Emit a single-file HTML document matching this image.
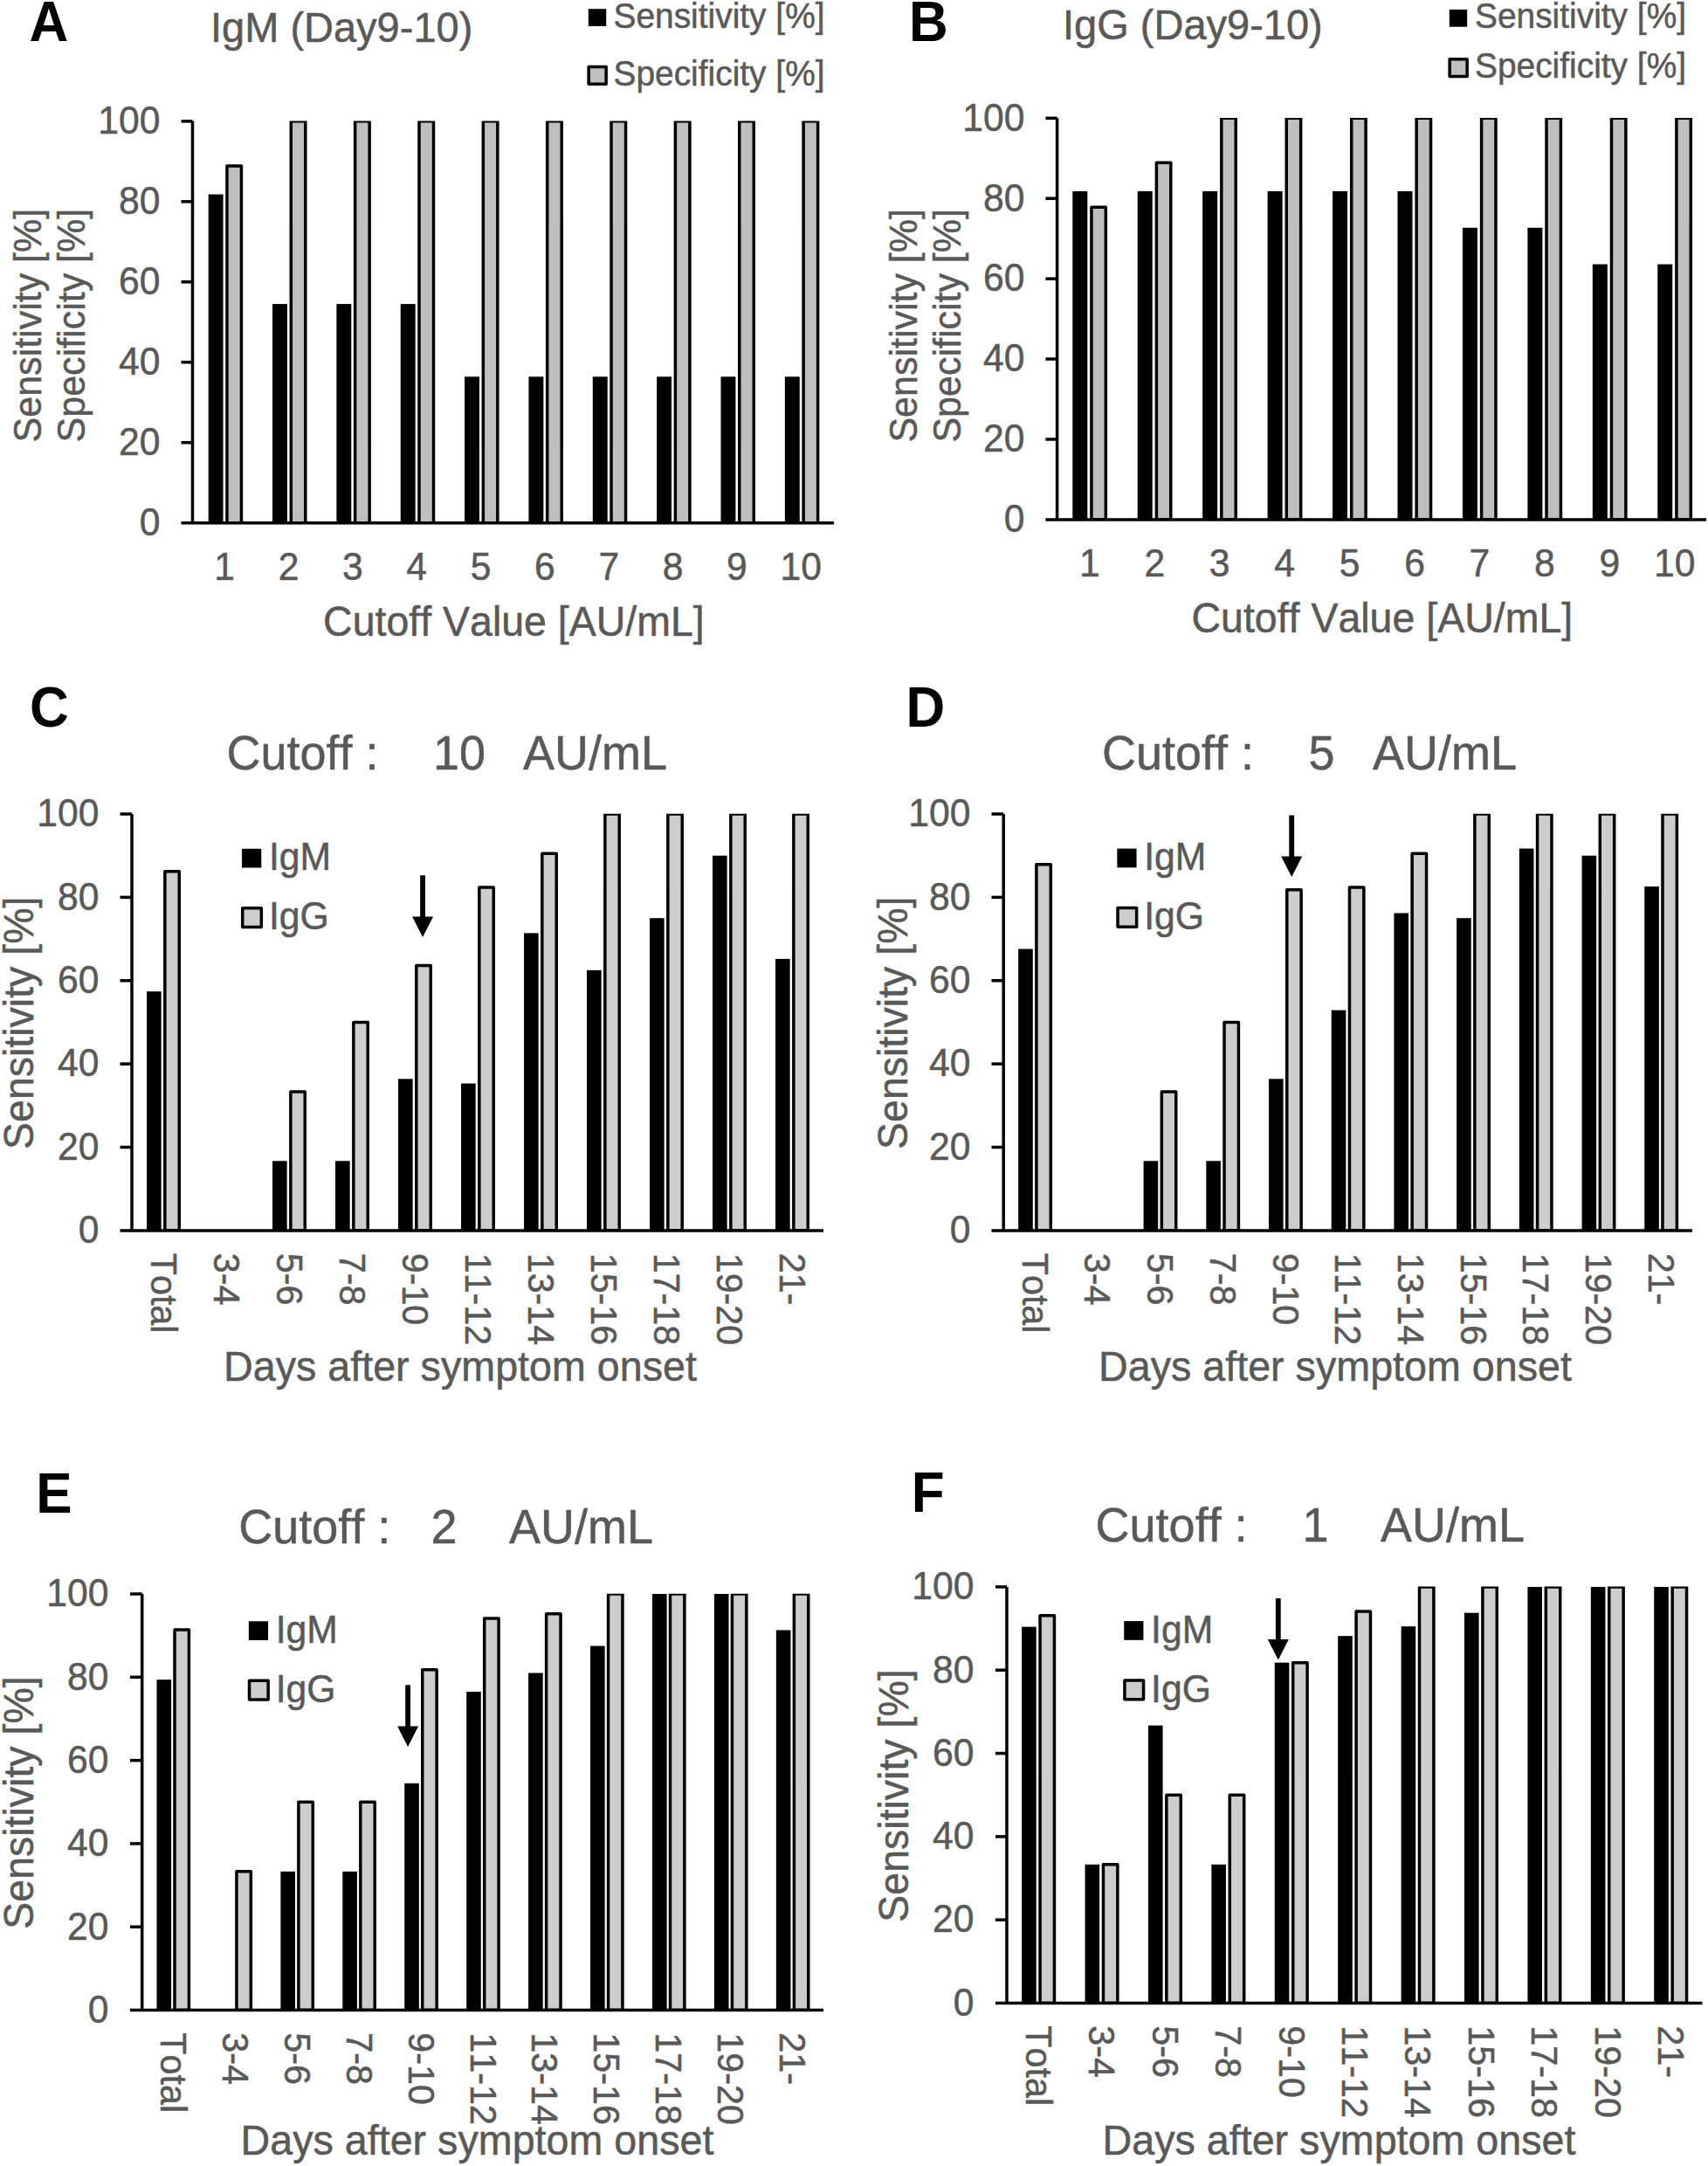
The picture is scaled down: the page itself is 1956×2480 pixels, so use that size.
<!DOCTYPE html>
<html lang="en"><head><meta charset="utf-8"><title>Figure</title>
<style>
html,body{margin:0;padding:0;background:#fff}
svg{display:block}
svg text{font-family:"Liberation Sans",Arial,Helvetica,sans-serif;font-kerning:none}
</style></head><body>
<svg width="1956" height="2480" viewBox="0 0 1956 2480">
<rect width="1956" height="2480" fill="#fff"/>
<clipPath id="cp1"><rect x="220.50" y="138.50" width="753.50" height="460.20"/></clipPath>
<g clip-path="url(#cp1)" stroke-linejoin="round">
<rect x="238.70" y="222.54" width="16.90" height="376.16" fill="#000"/>
<rect x="259.95" y="189.89" width="16.50" height="408.81" fill="#bfbfbf" stroke="#000" stroke-width="3.5"/>
<rect x="312.05" y="348.08" width="16.90" height="250.62" fill="#000"/>
<rect x="333.30" y="138.85" width="16.50" height="459.85" fill="#bfbfbf" stroke="#000" stroke-width="3.5"/>
<rect x="385.40" y="348.08" width="16.90" height="250.62" fill="#000"/>
<rect x="406.65" y="138.85" width="16.50" height="459.85" fill="#bfbfbf" stroke="#000" stroke-width="3.5"/>
<rect x="458.75" y="348.08" width="16.90" height="250.62" fill="#000"/>
<rect x="480.00" y="138.85" width="16.50" height="459.85" fill="#bfbfbf" stroke="#000" stroke-width="3.5"/>
<rect x="532.10" y="431.31" width="16.90" height="167.39" fill="#000"/>
<rect x="553.35" y="138.85" width="16.50" height="459.85" fill="#bfbfbf" stroke="#000" stroke-width="3.5"/>
<rect x="605.45" y="431.31" width="16.90" height="167.39" fill="#000"/>
<rect x="626.70" y="138.85" width="16.50" height="459.85" fill="#bfbfbf" stroke="#000" stroke-width="3.5"/>
<rect x="678.80" y="431.31" width="16.90" height="167.39" fill="#000"/>
<rect x="700.05" y="138.85" width="16.50" height="459.85" fill="#bfbfbf" stroke="#000" stroke-width="3.5"/>
<rect x="752.15" y="431.31" width="16.90" height="167.39" fill="#000"/>
<rect x="773.40" y="138.85" width="16.50" height="459.85" fill="#bfbfbf" stroke="#000" stroke-width="3.5"/>
<rect x="825.50" y="431.31" width="16.90" height="167.39" fill="#000"/>
<rect x="846.75" y="138.85" width="16.50" height="459.85" fill="#bfbfbf" stroke="#000" stroke-width="3.5"/>
<rect x="898.85" y="431.31" width="16.90" height="167.39" fill="#000"/>
<rect x="920.10" y="138.85" width="16.50" height="459.85" fill="#bfbfbf" stroke="#000" stroke-width="3.5"/>
</g>
<line x1="220.50" y1="138.85" x2="220.50" y2="598.70" stroke="#000" stroke-width="3.5"/>
<line x1="207.50" y1="598.70" x2="955.00" y2="598.70" stroke="#000" stroke-width="3.5"/>
<text transform="translate(183.50 613.00) scale(1 1.041)" font-size="42.67" text-anchor="end" fill="#595959" stroke="#595959" stroke-width="0.5">0</text>
<line x1="207.50" y1="506.73" x2="220.50" y2="506.73" stroke="#000" stroke-width="3.5"/>
<text transform="translate(183.50 521.03) scale(1 1.041)" font-size="42.67" text-anchor="end" fill="#595959" stroke="#595959" stroke-width="0.5">20</text>
<line x1="207.50" y1="414.76" x2="220.50" y2="414.76" stroke="#000" stroke-width="3.5"/>
<text transform="translate(183.50 429.06) scale(1 1.041)" font-size="42.67" text-anchor="end" fill="#595959" stroke="#595959" stroke-width="0.5">40</text>
<line x1="207.50" y1="322.79" x2="220.50" y2="322.79" stroke="#000" stroke-width="3.5"/>
<text transform="translate(183.50 337.09) scale(1 1.041)" font-size="42.67" text-anchor="end" fill="#595959" stroke="#595959" stroke-width="0.5">60</text>
<line x1="207.50" y1="230.82" x2="220.50" y2="230.82" stroke="#000" stroke-width="3.5"/>
<text transform="translate(183.50 245.12) scale(1 1.041)" font-size="42.67" text-anchor="end" fill="#595959" stroke="#595959" stroke-width="0.5">80</text>
<line x1="207.50" y1="138.85" x2="220.50" y2="138.85" stroke="#000" stroke-width="3.5"/>
<text transform="translate(183.50 153.15) scale(1 1.041)" font-size="42.67" text-anchor="end" fill="#595959" stroke="#595959" stroke-width="0.5">100</text>
<text transform="translate(257.18 663.60) scale(1 1.041)" font-size="42.67" text-anchor="middle" fill="#595959" stroke="#595959" stroke-width="0.5">1</text>
<text transform="translate(330.52 663.60) scale(1 1.041)" font-size="42.67" text-anchor="middle" fill="#595959" stroke="#595959" stroke-width="0.5">2</text>
<text transform="translate(403.88 663.60) scale(1 1.041)" font-size="42.67" text-anchor="middle" fill="#595959" stroke="#595959" stroke-width="0.5">3</text>
<text transform="translate(477.22 663.60) scale(1 1.041)" font-size="42.67" text-anchor="middle" fill="#595959" stroke="#595959" stroke-width="0.5">4</text>
<text transform="translate(550.58 663.60) scale(1 1.041)" font-size="42.67" text-anchor="middle" fill="#595959" stroke="#595959" stroke-width="0.5">5</text>
<text transform="translate(623.92 663.60) scale(1 1.041)" font-size="42.67" text-anchor="middle" fill="#595959" stroke="#595959" stroke-width="0.5">6</text>
<text transform="translate(697.27 663.60) scale(1 1.041)" font-size="42.67" text-anchor="middle" fill="#595959" stroke="#595959" stroke-width="0.5">7</text>
<text transform="translate(770.62 663.60) scale(1 1.041)" font-size="42.67" text-anchor="middle" fill="#595959" stroke="#595959" stroke-width="0.5">8</text>
<text transform="translate(843.97 663.60) scale(1 1.041)" font-size="42.67" text-anchor="middle" fill="#595959" stroke="#595959" stroke-width="0.5">9</text>
<text transform="translate(917.32 663.60) scale(1 1.041)" font-size="42.67" text-anchor="middle" fill="#595959" stroke="#595959" stroke-width="0.5">10</text>
<clipPath id="cp2"><rect x="1210.60" y="134.95" width="764.40" height="459.95"/></clipPath>
<g clip-path="url(#cp2)" stroke-linejoin="round">
<rect x="1228.30" y="218.95" width="17.00" height="375.95" fill="#000"/>
<rect x="1249.95" y="237.33" width="16.40" height="357.57" fill="#bfbfbf" stroke="#000" stroke-width="3.5"/>
<rect x="1302.74" y="218.95" width="17.00" height="375.95" fill="#000"/>
<rect x="1324.39" y="186.32" width="16.40" height="408.58" fill="#bfbfbf" stroke="#000" stroke-width="3.5"/>
<rect x="1377.18" y="218.95" width="17.00" height="375.95" fill="#000"/>
<rect x="1398.83" y="135.30" width="16.40" height="459.60" fill="#bfbfbf" stroke="#000" stroke-width="3.5"/>
<rect x="1451.62" y="218.95" width="17.00" height="375.95" fill="#000"/>
<rect x="1473.27" y="135.30" width="16.40" height="459.60" fill="#bfbfbf" stroke="#000" stroke-width="3.5"/>
<rect x="1526.06" y="218.95" width="17.00" height="375.95" fill="#000"/>
<rect x="1547.71" y="135.30" width="16.40" height="459.60" fill="#bfbfbf" stroke="#000" stroke-width="3.5"/>
<rect x="1600.50" y="218.95" width="17.00" height="375.95" fill="#000"/>
<rect x="1622.15" y="135.30" width="16.40" height="459.60" fill="#bfbfbf" stroke="#000" stroke-width="3.5"/>
<rect x="1674.94" y="260.77" width="17.00" height="334.13" fill="#000"/>
<rect x="1696.59" y="135.30" width="16.40" height="459.60" fill="#bfbfbf" stroke="#000" stroke-width="3.5"/>
<rect x="1749.38" y="260.77" width="17.00" height="334.13" fill="#000"/>
<rect x="1771.03" y="135.30" width="16.40" height="459.60" fill="#bfbfbf" stroke="#000" stroke-width="3.5"/>
<rect x="1823.82" y="302.59" width="17.00" height="292.31" fill="#000"/>
<rect x="1845.47" y="135.30" width="16.40" height="459.60" fill="#bfbfbf" stroke="#000" stroke-width="3.5"/>
<rect x="1898.26" y="302.59" width="17.00" height="292.31" fill="#000"/>
<rect x="1919.91" y="135.30" width="16.40" height="459.60" fill="#bfbfbf" stroke="#000" stroke-width="3.5"/>
</g>
<line x1="1210.60" y1="135.30" x2="1210.60" y2="594.90" stroke="#000" stroke-width="3.5"/>
<line x1="1197.40" y1="594.90" x2="1954.00" y2="594.90" stroke="#000" stroke-width="3.5"/>
<text transform="translate(1173.50 609.20) scale(1 1.041)" font-size="42.67" text-anchor="end" fill="#595959" stroke="#595959" stroke-width="0.5">0</text>
<line x1="1197.40" y1="502.98" x2="1210.60" y2="502.98" stroke="#000" stroke-width="3.5"/>
<text transform="translate(1173.50 517.28) scale(1 1.041)" font-size="42.67" text-anchor="end" fill="#595959" stroke="#595959" stroke-width="0.5">20</text>
<line x1="1197.40" y1="411.06" x2="1210.60" y2="411.06" stroke="#000" stroke-width="3.5"/>
<text transform="translate(1173.50 425.36) scale(1 1.041)" font-size="42.67" text-anchor="end" fill="#595959" stroke="#595959" stroke-width="0.5">40</text>
<line x1="1197.40" y1="319.14" x2="1210.60" y2="319.14" stroke="#000" stroke-width="3.5"/>
<text transform="translate(1173.50 333.44) scale(1 1.041)" font-size="42.67" text-anchor="end" fill="#595959" stroke="#595959" stroke-width="0.5">60</text>
<line x1="1197.40" y1="227.22" x2="1210.60" y2="227.22" stroke="#000" stroke-width="3.5"/>
<text transform="translate(1173.50 241.52) scale(1 1.041)" font-size="42.67" text-anchor="end" fill="#595959" stroke="#595959" stroke-width="0.5">80</text>
<line x1="1197.40" y1="135.30" x2="1210.60" y2="135.30" stroke="#000" stroke-width="3.5"/>
<text transform="translate(1173.50 149.60) scale(1 1.041)" font-size="42.67" text-anchor="end" fill="#595959" stroke="#595959" stroke-width="0.5">100</text>
<text transform="translate(1247.82 660.00) scale(1 1.041)" font-size="42.67" text-anchor="middle" fill="#595959" stroke="#595959" stroke-width="0.5">1</text>
<text transform="translate(1322.26 660.00) scale(1 1.041)" font-size="42.67" text-anchor="middle" fill="#595959" stroke="#595959" stroke-width="0.5">2</text>
<text transform="translate(1396.70 660.00) scale(1 1.041)" font-size="42.67" text-anchor="middle" fill="#595959" stroke="#595959" stroke-width="0.5">3</text>
<text transform="translate(1471.14 660.00) scale(1 1.041)" font-size="42.67" text-anchor="middle" fill="#595959" stroke="#595959" stroke-width="0.5">4</text>
<text transform="translate(1545.58 660.00) scale(1 1.041)" font-size="42.67" text-anchor="middle" fill="#595959" stroke="#595959" stroke-width="0.5">5</text>
<text transform="translate(1620.02 660.00) scale(1 1.041)" font-size="42.67" text-anchor="middle" fill="#595959" stroke="#595959" stroke-width="0.5">6</text>
<text transform="translate(1694.46 660.00) scale(1 1.041)" font-size="42.67" text-anchor="middle" fill="#595959" stroke="#595959" stroke-width="0.5">7</text>
<text transform="translate(1768.90 660.00) scale(1 1.041)" font-size="42.67" text-anchor="middle" fill="#595959" stroke="#595959" stroke-width="0.5">8</text>
<text transform="translate(1843.34 660.00) scale(1 1.041)" font-size="42.67" text-anchor="middle" fill="#595959" stroke="#595959" stroke-width="0.5">9</text>
<text transform="translate(1917.78 660.00) scale(1 1.041)" font-size="42.67" text-anchor="middle" fill="#595959" stroke="#595959" stroke-width="0.5">10</text>
<clipPath id="cp3"><rect x="151.00" y="931.65" width="812.00" height="477.25"/></clipPath>
<g clip-path="url(#cp3)" stroke-linejoin="round">
<rect x="168.05" y="1135.16" width="16.60" height="273.74" fill="#000"/>
<rect x="188.85" y="997.81" width="16.40" height="411.09" fill="#cdcdcd" stroke="#000" stroke-width="3.5"/>
<rect x="312.05" y="1329.26" width="16.60" height="79.64" fill="#000"/>
<rect x="332.85" y="1250.09" width="16.40" height="158.81" fill="#cdcdcd" stroke="#000" stroke-width="3.5"/>
<rect x="384.05" y="1329.26" width="16.60" height="79.64" fill="#000"/>
<rect x="404.85" y="1170.45" width="16.40" height="238.45" fill="#cdcdcd" stroke="#000" stroke-width="3.5"/>
<rect x="456.05" y="1235.31" width="16.60" height="173.59" fill="#000"/>
<rect x="476.85" y="1105.59" width="16.40" height="303.31" fill="#cdcdcd" stroke="#000" stroke-width="3.5"/>
<rect x="528.05" y="1240.55" width="16.60" height="168.35" fill="#000"/>
<rect x="548.85" y="1015.93" width="16.40" height="392.97" fill="#cdcdcd" stroke="#000" stroke-width="3.5"/>
<rect x="600.05" y="1068.39" width="16.60" height="340.51" fill="#000"/>
<rect x="620.85" y="977.31" width="16.40" height="431.59" fill="#cdcdcd" stroke="#000" stroke-width="3.5"/>
<rect x="672.05" y="1110.84" width="16.60" height="298.06" fill="#000"/>
<rect x="692.85" y="932.00" width="16.40" height="476.90" fill="#cdcdcd" stroke="#000" stroke-width="3.5"/>
<rect x="744.05" y="1051.22" width="16.60" height="357.68" fill="#000"/>
<rect x="764.85" y="932.00" width="16.40" height="476.90" fill="#cdcdcd" stroke="#000" stroke-width="3.5"/>
<rect x="816.05" y="979.69" width="16.60" height="429.21" fill="#000"/>
<rect x="836.85" y="932.00" width="16.40" height="476.90" fill="#cdcdcd" stroke="#000" stroke-width="3.5"/>
<rect x="888.05" y="1097.96" width="16.60" height="310.94" fill="#000"/>
<rect x="908.85" y="932.00" width="16.40" height="476.90" fill="#cdcdcd" stroke="#000" stroke-width="3.5"/>
</g>
<line x1="151.00" y1="932.00" x2="151.00" y2="1408.90" stroke="#000" stroke-width="3.5"/>
<line x1="137.50" y1="1408.90" x2="943.00" y2="1408.90" stroke="#000" stroke-width="3.5"/>
<text transform="translate(113.50 1423.20) scale(1 1.041)" font-size="42.67" text-anchor="end" fill="#595959" stroke="#595959" stroke-width="0.5">0</text>
<line x1="137.50" y1="1313.52" x2="151.00" y2="1313.52" stroke="#000" stroke-width="3.5"/>
<text transform="translate(113.50 1327.82) scale(1 1.041)" font-size="42.67" text-anchor="end" fill="#595959" stroke="#595959" stroke-width="0.5">20</text>
<line x1="137.50" y1="1218.14" x2="151.00" y2="1218.14" stroke="#000" stroke-width="3.5"/>
<text transform="translate(113.50 1232.44) scale(1 1.041)" font-size="42.67" text-anchor="end" fill="#595959" stroke="#595959" stroke-width="0.5">40</text>
<line x1="137.50" y1="1122.76" x2="151.00" y2="1122.76" stroke="#000" stroke-width="3.5"/>
<text transform="translate(113.50 1137.06) scale(1 1.041)" font-size="42.67" text-anchor="end" fill="#595959" stroke="#595959" stroke-width="0.5">60</text>
<line x1="137.50" y1="1027.38" x2="151.00" y2="1027.38" stroke="#000" stroke-width="3.5"/>
<text transform="translate(113.50 1041.68) scale(1 1.041)" font-size="42.67" text-anchor="end" fill="#595959" stroke="#595959" stroke-width="0.5">80</text>
<line x1="137.50" y1="932.00" x2="151.00" y2="932.00" stroke="#000" stroke-width="3.5"/>
<text transform="translate(113.50 946.30) scale(1 1.041)" font-size="42.67" text-anchor="end" fill="#595959" stroke="#595959" stroke-width="0.5">100</text>
<text transform="translate(172.70 1434.70) rotate(90) scale(1 1.041)" font-size="41.3" text-anchor="start" fill="#595959" stroke="#595959" stroke-width="0.5">Total</text>
<text transform="translate(244.70 1434.70) rotate(90) scale(1 1.041)" font-size="41.3" text-anchor="start" fill="#595959" stroke="#595959" stroke-width="0.5">3-4</text>
<text transform="translate(316.70 1434.70) rotate(90) scale(1 1.041)" font-size="41.3" text-anchor="start" fill="#595959" stroke="#595959" stroke-width="0.5">5-6</text>
<text transform="translate(388.70 1434.70) rotate(90) scale(1 1.041)" font-size="41.3" text-anchor="start" fill="#595959" stroke="#595959" stroke-width="0.5">7-8</text>
<text transform="translate(460.70 1434.70) rotate(90) scale(1 1.041)" font-size="41.3" text-anchor="start" fill="#595959" stroke="#595959" stroke-width="0.5">9-10</text>
<text transform="translate(532.70 1434.70) rotate(90) scale(1 1.041)" font-size="41.3" text-anchor="start" fill="#595959" stroke="#595959" stroke-width="0.5">11-12</text>
<text transform="translate(604.70 1434.70) rotate(90) scale(1 1.041)" font-size="41.3" text-anchor="start" fill="#595959" stroke="#595959" stroke-width="0.5">13-14</text>
<text transform="translate(676.70 1434.70) rotate(90) scale(1 1.041)" font-size="41.3" text-anchor="start" fill="#595959" stroke="#595959" stroke-width="0.5">15-16</text>
<text transform="translate(748.70 1434.70) rotate(90) scale(1 1.041)" font-size="41.3" text-anchor="start" fill="#595959" stroke="#595959" stroke-width="0.5">17-18</text>
<text transform="translate(820.70 1434.70) rotate(90) scale(1 1.041)" font-size="41.3" text-anchor="start" fill="#595959" stroke="#595959" stroke-width="0.5">19-20</text>
<text transform="translate(892.70 1434.70) rotate(90) scale(1 1.041)" font-size="41.3" text-anchor="start" fill="#595959" stroke="#595959" stroke-width="0.5">21-</text>
<clipPath id="cp4"><rect x="1149.20" y="931.65" width="808.80" height="477.25"/></clipPath>
<g clip-path="url(#cp4)" stroke-linejoin="round">
<rect x="1166.18" y="1086.52" width="16.60" height="322.38" fill="#000"/>
<rect x="1186.90" y="989.70" width="16.40" height="419.20" fill="#cdcdcd" stroke="#000" stroke-width="3.5"/>
<rect x="1309.60" y="1329.26" width="16.60" height="79.64" fill="#000"/>
<rect x="1330.32" y="1250.09" width="16.40" height="158.81" fill="#cdcdcd" stroke="#000" stroke-width="3.5"/>
<rect x="1381.31" y="1329.26" width="16.60" height="79.64" fill="#000"/>
<rect x="1402.03" y="1170.45" width="16.40" height="238.45" fill="#cdcdcd" stroke="#000" stroke-width="3.5"/>
<rect x="1453.02" y="1235.31" width="16.60" height="173.59" fill="#000"/>
<rect x="1473.74" y="1018.80" width="16.40" height="390.10" fill="#cdcdcd" stroke="#000" stroke-width="3.5"/>
<rect x="1524.73" y="1156.62" width="16.60" height="252.28" fill="#000"/>
<rect x="1545.45" y="1015.93" width="16.40" height="392.97" fill="#cdcdcd" stroke="#000" stroke-width="3.5"/>
<rect x="1596.44" y="1045.50" width="16.60" height="363.40" fill="#000"/>
<rect x="1617.16" y="977.31" width="16.40" height="431.59" fill="#cdcdcd" stroke="#000" stroke-width="3.5"/>
<rect x="1668.14" y="1051.22" width="16.60" height="357.68" fill="#000"/>
<rect x="1688.87" y="932.00" width="16.40" height="476.90" fill="#cdcdcd" stroke="#000" stroke-width="3.5"/>
<rect x="1739.85" y="971.58" width="16.60" height="437.32" fill="#000"/>
<rect x="1760.58" y="932.00" width="16.40" height="476.90" fill="#cdcdcd" stroke="#000" stroke-width="3.5"/>
<rect x="1811.56" y="979.69" width="16.60" height="429.21" fill="#000"/>
<rect x="1832.29" y="932.00" width="16.40" height="476.90" fill="#cdcdcd" stroke="#000" stroke-width="3.5"/>
<rect x="1883.27" y="1014.98" width="16.60" height="393.92" fill="#000"/>
<rect x="1904.00" y="932.00" width="16.40" height="476.90" fill="#cdcdcd" stroke="#000" stroke-width="3.5"/>
</g>
<line x1="1149.20" y1="932.00" x2="1149.20" y2="1408.90" stroke="#000" stroke-width="3.5"/>
<line x1="1135.50" y1="1408.90" x2="1938.00" y2="1408.90" stroke="#000" stroke-width="3.5"/>
<text transform="translate(1111.50 1423.20) scale(1 1.041)" font-size="42.67" text-anchor="end" fill="#595959" stroke="#595959" stroke-width="0.5">0</text>
<line x1="1135.50" y1="1313.52" x2="1149.20" y2="1313.52" stroke="#000" stroke-width="3.5"/>
<text transform="translate(1111.50 1327.82) scale(1 1.041)" font-size="42.67" text-anchor="end" fill="#595959" stroke="#595959" stroke-width="0.5">20</text>
<line x1="1135.50" y1="1218.14" x2="1149.20" y2="1218.14" stroke="#000" stroke-width="3.5"/>
<text transform="translate(1111.50 1232.44) scale(1 1.041)" font-size="42.67" text-anchor="end" fill="#595959" stroke="#595959" stroke-width="0.5">40</text>
<line x1="1135.50" y1="1122.76" x2="1149.20" y2="1122.76" stroke="#000" stroke-width="3.5"/>
<text transform="translate(1111.50 1137.06) scale(1 1.041)" font-size="42.67" text-anchor="end" fill="#595959" stroke="#595959" stroke-width="0.5">60</text>
<line x1="1135.50" y1="1027.38" x2="1149.20" y2="1027.38" stroke="#000" stroke-width="3.5"/>
<text transform="translate(1111.50 1041.68) scale(1 1.041)" font-size="42.67" text-anchor="end" fill="#595959" stroke="#595959" stroke-width="0.5">80</text>
<line x1="1135.50" y1="932.00" x2="1149.20" y2="932.00" stroke="#000" stroke-width="3.5"/>
<text transform="translate(1111.50 946.30) scale(1 1.041)" font-size="42.67" text-anchor="end" fill="#595959" stroke="#595959" stroke-width="0.5">100</text>
<text transform="translate(1170.75 1434.70) rotate(90) scale(1 1.041)" font-size="41.3" text-anchor="start" fill="#595959" stroke="#595959" stroke-width="0.5">Total</text>
<text transform="translate(1242.46 1434.70) rotate(90) scale(1 1.041)" font-size="41.3" text-anchor="start" fill="#595959" stroke="#595959" stroke-width="0.5">3-4</text>
<text transform="translate(1314.17 1434.70) rotate(90) scale(1 1.041)" font-size="41.3" text-anchor="start" fill="#595959" stroke="#595959" stroke-width="0.5">5-6</text>
<text transform="translate(1385.88 1434.70) rotate(90) scale(1 1.041)" font-size="41.3" text-anchor="start" fill="#595959" stroke="#595959" stroke-width="0.5">7-8</text>
<text transform="translate(1457.59 1434.70) rotate(90) scale(1 1.041)" font-size="41.3" text-anchor="start" fill="#595959" stroke="#595959" stroke-width="0.5">9-10</text>
<text transform="translate(1529.30 1434.70) rotate(90) scale(1 1.041)" font-size="41.3" text-anchor="start" fill="#595959" stroke="#595959" stroke-width="0.5">11-12</text>
<text transform="translate(1601.01 1434.70) rotate(90) scale(1 1.041)" font-size="41.3" text-anchor="start" fill="#595959" stroke="#595959" stroke-width="0.5">13-14</text>
<text transform="translate(1672.72 1434.70) rotate(90) scale(1 1.041)" font-size="41.3" text-anchor="start" fill="#595959" stroke="#595959" stroke-width="0.5">15-16</text>
<text transform="translate(1744.43 1434.70) rotate(90) scale(1 1.041)" font-size="41.3" text-anchor="start" fill="#595959" stroke="#595959" stroke-width="0.5">17-18</text>
<text transform="translate(1816.14 1434.70) rotate(90) scale(1 1.041)" font-size="41.3" text-anchor="start" fill="#595959" stroke="#595959" stroke-width="0.5">19-20</text>
<text transform="translate(1887.85 1434.70) rotate(90) scale(1 1.041)" font-size="41.3" text-anchor="start" fill="#595959" stroke="#595959" stroke-width="0.5">21-</text>
<clipPath id="cp5"><rect x="162.70" y="1824.65" width="800.30" height="476.85"/></clipPath>
<g clip-path="url(#cp5)" stroke-linejoin="round">
<rect x="179.50" y="1923.16" width="16.60" height="378.34" fill="#000"/>
<rect x="200.02" y="1865.98" width="16.40" height="435.52" fill="#cdcdcd" stroke="#000" stroke-width="3.5"/>
<rect x="270.95" y="2142.83" width="16.40" height="158.67" fill="#cdcdcd" stroke="#000" stroke-width="3.5"/>
<rect x="321.37" y="2142.83" width="16.60" height="158.67" fill="#000"/>
<rect x="341.89" y="2063.25" width="16.40" height="238.25" fill="#cdcdcd" stroke="#000" stroke-width="3.5"/>
<rect x="392.31" y="2142.83" width="16.60" height="158.67" fill="#000"/>
<rect x="412.83" y="2063.25" width="16.40" height="238.25" fill="#cdcdcd" stroke="#000" stroke-width="3.5"/>
<rect x="463.24" y="2041.81" width="16.60" height="259.69" fill="#000"/>
<rect x="483.76" y="1911.72" width="16.40" height="389.78" fill="#cdcdcd" stroke="#000" stroke-width="3.5"/>
<rect x="534.18" y="1936.98" width="16.60" height="364.52" fill="#000"/>
<rect x="554.70" y="1853.11" width="16.40" height="448.39" fill="#cdcdcd" stroke="#000" stroke-width="3.5"/>
<rect x="605.12" y="1915.54" width="16.60" height="385.96" fill="#000"/>
<rect x="625.63" y="1847.87" width="16.40" height="453.63" fill="#cdcdcd" stroke="#000" stroke-width="3.5"/>
<rect x="676.05" y="1884.56" width="16.60" height="416.94" fill="#000"/>
<rect x="696.57" y="1825.00" width="16.40" height="476.50" fill="#cdcdcd" stroke="#000" stroke-width="3.5"/>
<rect x="746.99" y="1825.00" width="16.60" height="476.50" fill="#000"/>
<rect x="767.51" y="1825.00" width="16.40" height="476.50" fill="#cdcdcd" stroke="#000" stroke-width="3.5"/>
<rect x="817.93" y="1825.00" width="16.60" height="476.50" fill="#000"/>
<rect x="838.44" y="1825.00" width="16.40" height="476.50" fill="#cdcdcd" stroke="#000" stroke-width="3.5"/>
<rect x="888.86" y="1866.46" width="16.60" height="435.04" fill="#000"/>
<rect x="909.38" y="1825.00" width="16.40" height="476.50" fill="#cdcdcd" stroke="#000" stroke-width="3.5"/>
</g>
<line x1="162.70" y1="1825.00" x2="162.70" y2="2301.50" stroke="#000" stroke-width="3.5"/>
<line x1="149.00" y1="2301.50" x2="943.00" y2="2301.50" stroke="#000" stroke-width="3.5"/>
<text transform="translate(124.50 2315.80) scale(1 1.041)" font-size="42.67" text-anchor="end" fill="#595959" stroke="#595959" stroke-width="0.5">0</text>
<line x1="149.00" y1="2206.20" x2="162.70" y2="2206.20" stroke="#000" stroke-width="3.5"/>
<text transform="translate(124.50 2220.50) scale(1 1.041)" font-size="42.67" text-anchor="end" fill="#595959" stroke="#595959" stroke-width="0.5">20</text>
<line x1="149.00" y1="2110.90" x2="162.70" y2="2110.90" stroke="#000" stroke-width="3.5"/>
<text transform="translate(124.50 2125.20) scale(1 1.041)" font-size="42.67" text-anchor="end" fill="#595959" stroke="#595959" stroke-width="0.5">40</text>
<line x1="149.00" y1="2015.60" x2="162.70" y2="2015.60" stroke="#000" stroke-width="3.5"/>
<text transform="translate(124.50 2029.90) scale(1 1.041)" font-size="42.67" text-anchor="end" fill="#595959" stroke="#595959" stroke-width="0.5">60</text>
<line x1="149.00" y1="1920.30" x2="162.70" y2="1920.30" stroke="#000" stroke-width="3.5"/>
<text transform="translate(124.50 1934.60) scale(1 1.041)" font-size="42.67" text-anchor="end" fill="#595959" stroke="#595959" stroke-width="0.5">80</text>
<line x1="149.00" y1="1825.00" x2="162.70" y2="1825.00" stroke="#000" stroke-width="3.5"/>
<text transform="translate(124.50 1839.30) scale(1 1.041)" font-size="42.67" text-anchor="end" fill="#595959" stroke="#595959" stroke-width="0.5">100</text>
<text transform="translate(183.87 2327.30) rotate(90) scale(1 1.041)" font-size="41.3" text-anchor="start" fill="#595959" stroke="#595959" stroke-width="0.5">Total</text>
<text transform="translate(254.80 2327.30) rotate(90) scale(1 1.041)" font-size="41.3" text-anchor="start" fill="#595959" stroke="#595959" stroke-width="0.5">3-4</text>
<text transform="translate(325.74 2327.30) rotate(90) scale(1 1.041)" font-size="41.3" text-anchor="start" fill="#595959" stroke="#595959" stroke-width="0.5">5-6</text>
<text transform="translate(396.68 2327.30) rotate(90) scale(1 1.041)" font-size="41.3" text-anchor="start" fill="#595959" stroke="#595959" stroke-width="0.5">7-8</text>
<text transform="translate(467.61 2327.30) rotate(90) scale(1 1.041)" font-size="41.3" text-anchor="start" fill="#595959" stroke="#595959" stroke-width="0.5">9-10</text>
<text transform="translate(538.55 2327.30) rotate(90) scale(1 1.041)" font-size="41.3" text-anchor="start" fill="#595959" stroke="#595959" stroke-width="0.5">11-12</text>
<text transform="translate(609.49 2327.30) rotate(90) scale(1 1.041)" font-size="41.3" text-anchor="start" fill="#595959" stroke="#595959" stroke-width="0.5">13-14</text>
<text transform="translate(680.42 2327.30) rotate(90) scale(1 1.041)" font-size="41.3" text-anchor="start" fill="#595959" stroke="#595959" stroke-width="0.5">15-16</text>
<text transform="translate(751.36 2327.30) rotate(90) scale(1 1.041)" font-size="41.3" text-anchor="start" fill="#595959" stroke="#595959" stroke-width="0.5">17-18</text>
<text transform="translate(822.30 2327.30) rotate(90) scale(1 1.041)" font-size="41.3" text-anchor="start" fill="#595959" stroke="#595959" stroke-width="0.5">19-20</text>
<text transform="translate(893.23 2327.30) rotate(90) scale(1 1.041)" font-size="41.3" text-anchor="start" fill="#595959" stroke="#595959" stroke-width="0.5">21-</text>
<clipPath id="cp6"><rect x="1153.00" y="1816.55" width="816.50" height="476.95"/></clipPath>
<g clip-path="url(#cp6)" stroke-linejoin="round">
<rect x="1170.15" y="1862.65" width="16.60" height="430.85" fill="#000"/>
<rect x="1191.06" y="1849.79" width="16.40" height="443.71" fill="#cdcdcd" stroke="#000" stroke-width="3.5"/>
<rect x="1242.56" y="2134.79" width="16.60" height="158.71" fill="#000"/>
<rect x="1263.46" y="2134.79" width="16.40" height="158.71" fill="#cdcdcd" stroke="#000" stroke-width="3.5"/>
<rect x="1314.97" y="1975.61" width="16.60" height="317.89" fill="#000"/>
<rect x="1335.87" y="2055.20" width="16.40" height="238.30" fill="#cdcdcd" stroke="#000" stroke-width="3.5"/>
<rect x="1387.37" y="2134.79" width="16.60" height="158.71" fill="#000"/>
<rect x="1408.28" y="2055.20" width="16.40" height="238.30" fill="#cdcdcd" stroke="#000" stroke-width="3.5"/>
<rect x="1459.78" y="1903.64" width="16.60" height="389.86" fill="#000"/>
<rect x="1480.69" y="1903.64" width="16.40" height="389.86" fill="#cdcdcd" stroke="#000" stroke-width="3.5"/>
<rect x="1532.19" y="1873.14" width="16.60" height="420.36" fill="#000"/>
<rect x="1553.10" y="1845.02" width="16.40" height="448.48" fill="#cdcdcd" stroke="#000" stroke-width="3.5"/>
<rect x="1604.60" y="1862.18" width="16.60" height="431.32" fill="#000"/>
<rect x="1625.51" y="1816.90" width="16.40" height="476.60" fill="#cdcdcd" stroke="#000" stroke-width="3.5"/>
<rect x="1677.01" y="1846.69" width="16.60" height="446.81" fill="#000"/>
<rect x="1697.92" y="1816.90" width="16.40" height="476.60" fill="#cdcdcd" stroke="#000" stroke-width="3.5"/>
<rect x="1749.42" y="1816.90" width="16.60" height="476.60" fill="#000"/>
<rect x="1770.33" y="1816.90" width="16.40" height="476.60" fill="#cdcdcd" stroke="#000" stroke-width="3.5"/>
<rect x="1821.83" y="1816.90" width="16.60" height="476.60" fill="#000"/>
<rect x="1842.74" y="1816.90" width="16.40" height="476.60" fill="#cdcdcd" stroke="#000" stroke-width="3.5"/>
<rect x="1894.24" y="1816.90" width="16.60" height="476.60" fill="#000"/>
<rect x="1915.15" y="1816.90" width="16.40" height="476.60" fill="#cdcdcd" stroke="#000" stroke-width="3.5"/>
</g>
<line x1="1153.00" y1="1816.90" x2="1153.00" y2="2293.50" stroke="#000" stroke-width="3.5"/>
<line x1="1140.00" y1="2293.50" x2="1949.50" y2="2293.50" stroke="#000" stroke-width="3.5"/>
<text transform="translate(1115.50 2307.80) scale(1 1.041)" font-size="42.67" text-anchor="end" fill="#595959" stroke="#595959" stroke-width="0.5">0</text>
<line x1="1140.00" y1="2198.18" x2="1153.00" y2="2198.18" stroke="#000" stroke-width="3.5"/>
<text transform="translate(1115.50 2212.48) scale(1 1.041)" font-size="42.67" text-anchor="end" fill="#595959" stroke="#595959" stroke-width="0.5">20</text>
<line x1="1140.00" y1="2102.86" x2="1153.00" y2="2102.86" stroke="#000" stroke-width="3.5"/>
<text transform="translate(1115.50 2117.16) scale(1 1.041)" font-size="42.67" text-anchor="end" fill="#595959" stroke="#595959" stroke-width="0.5">40</text>
<line x1="1140.00" y1="2007.54" x2="1153.00" y2="2007.54" stroke="#000" stroke-width="3.5"/>
<text transform="translate(1115.50 2021.84) scale(1 1.041)" font-size="42.67" text-anchor="end" fill="#595959" stroke="#595959" stroke-width="0.5">60</text>
<line x1="1140.00" y1="1912.22" x2="1153.00" y2="1912.22" stroke="#000" stroke-width="3.5"/>
<text transform="translate(1115.50 1926.52) scale(1 1.041)" font-size="42.67" text-anchor="end" fill="#595959" stroke="#595959" stroke-width="0.5">80</text>
<line x1="1140.00" y1="1816.90" x2="1153.00" y2="1816.90" stroke="#000" stroke-width="3.5"/>
<text transform="translate(1115.50 1831.20) scale(1 1.041)" font-size="42.67" text-anchor="end" fill="#595959" stroke="#595959" stroke-width="0.5">100</text>
<text transform="translate(1174.90 2319.30) rotate(90) scale(1 1.041)" font-size="41.3" text-anchor="start" fill="#595959" stroke="#595959" stroke-width="0.5">Total</text>
<text transform="translate(1247.31 2319.30) rotate(90) scale(1 1.041)" font-size="41.3" text-anchor="start" fill="#595959" stroke="#595959" stroke-width="0.5">3-4</text>
<text transform="translate(1319.72 2319.30) rotate(90) scale(1 1.041)" font-size="41.3" text-anchor="start" fill="#595959" stroke="#595959" stroke-width="0.5">5-6</text>
<text transform="translate(1392.13 2319.30) rotate(90) scale(1 1.041)" font-size="41.3" text-anchor="start" fill="#595959" stroke="#595959" stroke-width="0.5">7-8</text>
<text transform="translate(1464.54 2319.30) rotate(90) scale(1 1.041)" font-size="41.3" text-anchor="start" fill="#595959" stroke="#595959" stroke-width="0.5">9-10</text>
<text transform="translate(1536.95 2319.30) rotate(90) scale(1 1.041)" font-size="41.3" text-anchor="start" fill="#595959" stroke="#595959" stroke-width="0.5">11-12</text>
<text transform="translate(1609.36 2319.30) rotate(90) scale(1 1.041)" font-size="41.3" text-anchor="start" fill="#595959" stroke="#595959" stroke-width="0.5">13-14</text>
<text transform="translate(1681.77 2319.30) rotate(90) scale(1 1.041)" font-size="41.3" text-anchor="start" fill="#595959" stroke="#595959" stroke-width="0.5">15-16</text>
<text transform="translate(1754.18 2319.30) rotate(90) scale(1 1.041)" font-size="41.3" text-anchor="start" fill="#595959" stroke="#595959" stroke-width="0.5">17-18</text>
<text transform="translate(1826.59 2319.30) rotate(90) scale(1 1.041)" font-size="41.3" text-anchor="start" fill="#595959" stroke="#595959" stroke-width="0.5">19-20</text>
<text transform="translate(1899.00 2319.30) rotate(90) scale(1 1.041)" font-size="41.3" text-anchor="start" fill="#595959" stroke="#595959" stroke-width="0.5">21-</text>
<text transform="translate(33.56 47.40) scale(1 1.041)" font-size="62" text-anchor="start" fill="#000" font-weight="bold">A</text>
<text transform="translate(1041.00 46.60) scale(1 1.041)" font-size="62" text-anchor="start" fill="#000" font-weight="bold">B</text>
<text transform="translate(34.10 832.30) scale(1 1.041)" font-size="62" text-anchor="start" fill="#000" font-weight="bold">C</text>
<text transform="translate(1037.60 832.00) scale(1 1.041)" font-size="62" text-anchor="start" fill="#000" font-weight="bold">D</text>
<text transform="translate(41.20 1732.00) scale(1 1.041)" font-size="62" text-anchor="start" fill="#000" font-weight="bold">E</text>
<text transform="translate(1043.70 1731.20) scale(1 1.041)" font-size="62" text-anchor="start" fill="#000" font-weight="bold">F</text>
<text transform="translate(241.00 48.00) scale(1 1.041)" font-size="47.0" text-anchor="start" fill="#595959" stroke="#595959" stroke-width="0.5">IgM (Day9-10)</text>
<text transform="translate(1217.00 44.50) scale(1 1.041)" font-size="47.0" text-anchor="start" fill="#595959" stroke="#595959" stroke-width="0.5">IgG (Day9-10)</text>
<rect x="673.80" y="10.20" width="20.40" height="19.70" fill="#000"/>
<rect x="674.15" y="76.55" width="20.00" height="19.70" fill="#bfbfbf" stroke="#000" stroke-width="3.5" stroke-linejoin="round"/>
<text transform="translate(702.50 32.20) scale(1 1.041)" font-size="38.9" text-anchor="start" fill="#595959" stroke="#595959" stroke-width="0.5">Sensitivity [%]</text>
<text transform="translate(702.50 98.00) scale(1 1.041)" font-size="38.9" text-anchor="start" fill="#595959" stroke="#595959" stroke-width="0.5">Specificity [%]</text>
<rect x="1659.80" y="10.90" width="20.40" height="19.80" fill="#000"/>
<rect x="1660.15" y="67.75" width="20.00" height="19.70" fill="#bfbfbf" stroke="#000" stroke-width="3.5" stroke-linejoin="round"/>
<text transform="translate(1689.00 32.40) scale(1 1.041)" font-size="38.9" text-anchor="start" fill="#595959" stroke="#595959" stroke-width="0.5">Sensitivity [%]</text>
<text transform="translate(1689.00 89.20) scale(1 1.041)" font-size="38.9" text-anchor="start" fill="#595959" stroke="#595959" stroke-width="0.5">Specificity [%]</text>
<text transform="translate(47.10 372.60) rotate(-90) scale(1 1.041)" font-size="43.0" text-anchor="middle" fill="#595959" stroke="#595959" stroke-width="0.5">Sensitivity [%]</text>
<text transform="translate(96.70 372.60) rotate(-90) scale(1 1.041)" font-size="43.0" text-anchor="middle" fill="#595959" stroke="#595959" stroke-width="0.5">Specificity [%]</text>
<text transform="translate(1049.60 372.80) rotate(-90) scale(1 1.041)" font-size="43.0" text-anchor="middle" fill="#595959" stroke="#595959" stroke-width="0.5">Sensitivity [%]</text>
<text transform="translate(1099.60 372.80) rotate(-90) scale(1 1.041)" font-size="43.0" text-anchor="middle" fill="#595959" stroke="#595959" stroke-width="0.5">Specificity [%]</text>
<text transform="translate(37.50 1171.25) rotate(-90) scale(1 1.041)" font-size="46.5" text-anchor="middle" fill="#595959" stroke="#595959" stroke-width="0.5">Sensitivity [%]</text>
<text transform="translate(1038.50 1171.25) rotate(-90) scale(1 1.041)" font-size="46.5" text-anchor="middle" fill="#595959" stroke="#595959" stroke-width="0.5">Sensitivity [%]</text>
<text transform="translate(37.50 2064.00) rotate(-90) scale(1 1.041)" font-size="46.5" text-anchor="middle" fill="#595959" stroke="#595959" stroke-width="0.5">Sensitivity [%]</text>
<text transform="translate(1040.00 2056.00) rotate(-90) scale(1 1.041)" font-size="46.5" text-anchor="middle" fill="#595959" stroke="#595959" stroke-width="0.5">Sensitivity [%]</text>
<text transform="translate(588.40 728.00) scale(1 1.041)" font-size="46.5" text-anchor="middle" fill="#595959" stroke="#595959" stroke-width="0.5">Cutoff Value [AU/mL]</text>
<text transform="translate(1582.80 724.00) scale(1 1.041)" font-size="46.5" text-anchor="middle" fill="#595959" stroke="#595959" stroke-width="0.5">Cutoff Value [AU/mL]</text>
<text transform="translate(527.00 1581.00) scale(1 1.041)" font-size="46.67" text-anchor="middle" fill="#595959" stroke="#595959" stroke-width="0.5">Days after symptom onset</text>
<text transform="translate(1529.00 1581.00) scale(1 1.041)" font-size="46.67" text-anchor="middle" fill="#595959" stroke="#595959" stroke-width="0.5">Days after symptom onset</text>
<text transform="translate(546.50 2467.00) scale(1 1.041)" font-size="46.67" text-anchor="middle" fill="#595959" stroke="#595959" stroke-width="0.5">Days after symptom onset</text>
<text transform="translate(1533.50 2467.00) scale(1 1.041)" font-size="46.67" text-anchor="middle" fill="#595959" stroke="#595959" stroke-width="0.5">Days after symptom onset</text>
<text transform="translate(259.50 880.70) scale(1 1.041)" font-size="54" text-anchor="start" fill="#595959" stroke="#595959" stroke-width="0.5">Cutoff :</text>
<text transform="translate(496.00 880.70) scale(1 1.041)" font-size="54" text-anchor="start" fill="#595959" stroke="#595959" stroke-width="0.5">10</text>
<text transform="translate(599.00 880.70) scale(1 1.041)" font-size="54" text-anchor="start" fill="#595959" stroke="#595959" stroke-width="0.5">AU/mL</text>
<text transform="translate(1262.00 881.00) scale(1 1.041)" font-size="54" text-anchor="start" fill="#595959" stroke="#595959" stroke-width="0.5">Cutoff :</text>
<text transform="translate(1498.50 881.00) scale(1 1.041)" font-size="54" text-anchor="start" fill="#595959" stroke="#595959" stroke-width="0.5">5</text>
<text transform="translate(1572.00 881.00) scale(1 1.041)" font-size="54" text-anchor="start" fill="#595959" stroke="#595959" stroke-width="0.5">AU/mL</text>
<text transform="translate(273.30 1766.70) scale(1 1.041)" font-size="54" text-anchor="start" fill="#595959" stroke="#595959" stroke-width="0.5">Cutoff :</text>
<text transform="translate(493.50 1766.70) scale(1 1.041)" font-size="54" text-anchor="start" fill="#595959" stroke="#595959" stroke-width="0.5">2</text>
<text transform="translate(583.00 1766.70) scale(1 1.041)" font-size="54" text-anchor="start" fill="#595959" stroke="#595959" stroke-width="0.5">AU/mL</text>
<text transform="translate(1254.60 1764.50) scale(1 1.041)" font-size="54" text-anchor="start" fill="#595959" stroke="#595959" stroke-width="0.5">Cutoff :</text>
<text transform="translate(1491.50 1764.50) scale(1 1.041)" font-size="54" text-anchor="start" fill="#595959" stroke="#595959" stroke-width="0.5">1</text>
<text transform="translate(1581.00 1764.50) scale(1 1.041)" font-size="54" text-anchor="start" fill="#595959" stroke="#595959" stroke-width="0.5">AU/mL</text>
<rect x="277.05" y="971.80" width="22.20" height="21.70" fill="#000"/>
<rect x="277.75" y="1039.75" width="21.60" height="21.80" fill="#cdcdcd" stroke="#000" stroke-width="3.5" stroke-linejoin="round"/>
<text transform="translate(307.90 995.70) scale(1 1.041)" font-size="42.67" text-anchor="start" fill="#595959" stroke="#595959" stroke-width="0.5">IgM</text>
<text transform="translate(307.90 1064.20) scale(1 1.041)" font-size="42.67" text-anchor="start" fill="#595959" stroke="#595959" stroke-width="0.5">IgG</text>
<rect x="1279.35" y="971.60" width="22.20" height="21.70" fill="#000"/>
<rect x="1280.05" y="1039.55" width="21.60" height="21.80" fill="#cdcdcd" stroke="#000" stroke-width="3.5" stroke-linejoin="round"/>
<text transform="translate(1310.20 995.70) scale(1 1.041)" font-size="42.67" text-anchor="start" fill="#595959" stroke="#595959" stroke-width="0.5">IgM</text>
<text transform="translate(1310.20 1063.90) scale(1 1.041)" font-size="42.67" text-anchor="start" fill="#595959" stroke="#595959" stroke-width="0.5">IgG</text>
<rect x="284.85" y="1856.30" width="22.20" height="21.70" fill="#000"/>
<rect x="285.55" y="1924.25" width="21.60" height="21.80" fill="#cdcdcd" stroke="#000" stroke-width="3.5" stroke-linejoin="round"/>
<text transform="translate(315.70 1881.00) scale(1 1.041)" font-size="42.67" text-anchor="start" fill="#595959" stroke="#595959" stroke-width="0.5">IgM</text>
<text transform="translate(315.70 1948.70) scale(1 1.041)" font-size="42.67" text-anchor="start" fill="#595959" stroke="#595959" stroke-width="0.5">IgG</text>
<rect x="1287.25" y="1856.10" width="22.20" height="21.70" fill="#000"/>
<rect x="1287.95" y="1924.05" width="21.60" height="21.80" fill="#cdcdcd" stroke="#000" stroke-width="3.5" stroke-linejoin="round"/>
<text transform="translate(1318.10 1881.10) scale(1 1.041)" font-size="42.67" text-anchor="start" fill="#595959" stroke="#595959" stroke-width="0.5">IgM</text>
<text transform="translate(1318.10 1948.80) scale(1 1.041)" font-size="42.67" text-anchor="start" fill="#595959" stroke="#595959" stroke-width="0.5">IgG</text>
<path d="M481.20 1002.20H487.00V1049.40H496.10L484.10 1072.90L472.10 1049.40H481.20Z" fill="#000"/>
<path d="M1476.30 933.40H1482.10V980.60H1491.20L1479.20 1004.10L1467.20 980.60H1476.30Z" fill="#000"/>
<path d="M464.20 1929.30H470.00V1976.50H479.10L467.10 2000.00L455.10 1976.50H464.20Z" fill="#000"/>
<path d="M1460.90 1829.90H1466.70V1877.10H1475.80L1463.80 1900.60L1451.80 1877.10H1460.90Z" fill="#000"/>
</svg>
</body></html>
